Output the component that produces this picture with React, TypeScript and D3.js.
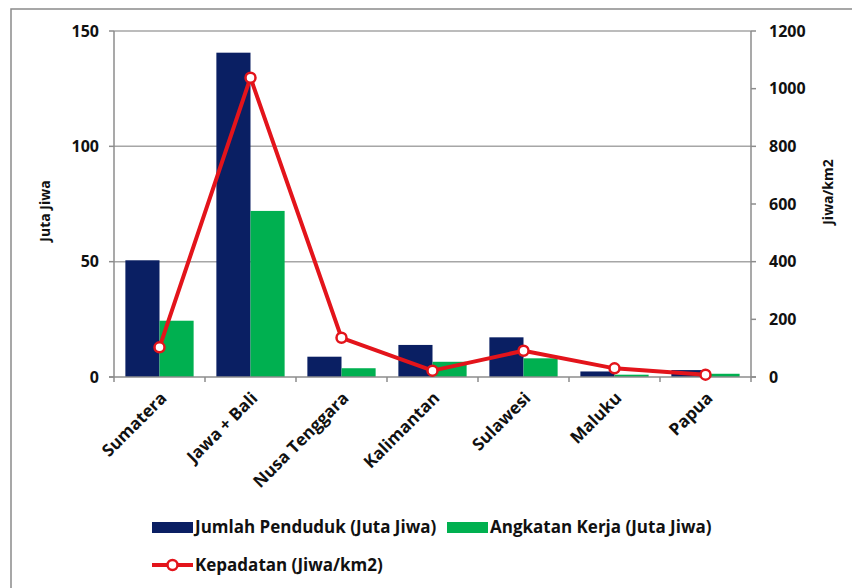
import React from "react";
import * as d3 from "d3";

// Population by island group, Indonesia
const categories: string[] = [
  "Sumatera",
  "Jawa + Bali",
  "Nusa Tenggara",
  "Kalimantan",
  "Sulawesi",
  "Maluku",
  "Papua",
];
// Jumlah Penduduk (Juta Jiwa)
const penduduk: number[] = [50.6, 140.6, 8.8, 13.9, 17.2, 2.4, 3.0];
// Angkatan Kerja (Juta Jiwa)
const angkatan: number[] = [24.4, 72.0, 3.8, 6.6, 8.1, 1.0, 1.4];
// Kepadatan (Jiwa/km2)
const kepadatan: number[] = [103, 1038, 136, 22, 91, 30, 8];

const leftTicks: number[] = [0, 50, 100, 150];
const rightTicks: number[] = [0, 200, 400, 600, 800, 1000, 1200];

const NAVY = "#0a1f63";
const GREEN = "#00b050";
const RED = "#e3141b";
const GRID = "#a6a6a6";
const AXIS = "#8c8c8c";
const INK = "#111";
const FONT = "'Open Sans', 'Noto Sans', sans-serif";

export default function App() {
  const W = 852;
  const H = 588;
  const m = { left: 114, right: 751, top: 31, bottom: 377 };

  const x = d3
    .scaleBand<string>()
    .domain(categories)
    .range([m.left, m.right])
    .paddingInner(0)
    .paddingOuter(0);
  const yL = d3.scaleLinear().domain([0, 150]).range([m.bottom, m.top]);
  const yR = d3.scaleLinear().domain([0, 1200]).range([m.bottom, m.top]);

  const bw = x.bandwidth() * 0.375;
  const groupOffset = (x.bandwidth() - 2 * bw) / 2;
  const cx = (c: string) => (x(c) as number) + x.bandwidth() / 2;

  const line = d3
    .line<number>()
    .x((_, i) => cx(categories[i]))
    .y((d) => yR(d));

  const boundaries = d3.range(categories.length + 1).map((i) => m.left + i * x.bandwidth());

  return (
    <svg
      width={W}
      height={H}
      style={{ position: "absolute", left: 0, top: 0, background: "#fff" }}
      fontFamily={FONT}
    >
      {/* chart frame */}
      <rect x={11} y={9} width={900} height={700} fill="#fff" stroke="#8a8a8a" strokeWidth={1.5} />

      {/* horizontal gridlines */}
      {leftTicks
        .filter((t) => t > 0)
        .map((t) => (
          <line key={t} x1={m.left} x2={m.right} y1={yL(t)} y2={yL(t)} stroke={GRID} strokeWidth={1.5} />
        ))}

      {/* bars */}
      {categories.map((c, i) => (
        <g key={c}>
          <rect
            x={(x(c) as number) + groupOffset}
            y={yL(penduduk[i])}
            width={bw}
            height={yL(0) - yL(penduduk[i])}
            fill={NAVY}
          />
          <rect
            x={(x(c) as number) + groupOffset + bw}
            y={yL(angkatan[i])}
            width={bw}
            height={yL(0) - yL(angkatan[i])}
            fill={GREEN}
          />
        </g>
      ))}

      {/* left axis */}
      <line x1={m.left} x2={m.left} y1={m.top} y2={m.bottom} stroke={AXIS} strokeWidth={1.5} />
      {leftTicks.map((t) => (
        <g key={t}>
          <line x1={m.left - 5} x2={m.left} y1={yL(t)} y2={yL(t)} stroke={AXIS} strokeWidth={1.5} />
          <text x={m.left - 15} y={yL(t)} dy="0.35em" textAnchor="end" fontSize={16} fontWeight={700} fill={INK}>
            {t}
          </text>
        </g>
      ))}

      {/* right axis */}
      <line x1={m.right} x2={m.right} y1={m.top} y2={m.bottom} stroke={AXIS} strokeWidth={1.5} />
      {rightTicks.map((t) => (
        <g key={t}>
          <line x1={m.right} x2={m.right + 5} y1={yR(t)} y2={yR(t)} stroke={AXIS} strokeWidth={1.5} />
          <text x={m.right + 18} y={yR(t)} dy="0.35em" textAnchor="start" fontSize={16} fontWeight={700} fill={INK}>
            {t}
          </text>
        </g>
      ))}

      {/* category axis */}
      <line x1={m.left - 5} x2={m.right + 5} y1={m.bottom} y2={m.bottom} stroke={AXIS} strokeWidth={1.5} />
      {boundaries.map((b, i) => (
        <line key={i} x1={b} x2={b} y1={m.bottom} y2={m.bottom + 5} stroke={AXIS} strokeWidth={1.5} />
      ))}
      {categories.map((c) => (
        <text
          key={c}
          transform={`translate(${cx(c) + 4},${m.bottom + 18}) rotate(-45)`}
          textAnchor="end"
          dy="0.35em"
          fontSize={17}
          fontWeight={700}
          fill={INK}
        >
          {c}
        </text>
      ))}

      {/* axis titles */}
      <text
        transform={`translate(50,${(m.top + m.bottom) / 2 + 7}) rotate(-90)`}
        textAnchor="middle"
        fontSize={14}
        fontWeight={700}
        fill={INK}
      >
        Juta Jiwa
      </text>
      <text
        transform={`translate(833,${(m.top + m.bottom) / 2 - 12}) rotate(-90)`}
        textAnchor="middle"
        fontSize={14}
        fontWeight={700}
        fill={INK}
      >
        Jiwa/km2
      </text>

      {/* density line */}
      <path d={line(kepadatan) as string} fill="none" stroke={RED} strokeWidth={4} strokeLinejoin="round" />
      {kepadatan.map((v, i) => (
        <circle key={i} cx={cx(categories[i])} cy={yR(v)} r={5} fill="#fff" stroke={RED} strokeWidth={2.5} />
      ))}

      {/* legend */}
      <g fontSize={17} fontWeight={700} fill={INK}>
        <rect x={152} y={522} width={41} height={11} fill={NAVY} />
        <text x={195} y={533}>Jumlah Penduduk (Juta Jiwa)</text>
        <rect x={447} y={522} width={41} height={11} fill={GREEN} />
        <text x={490} y={533}>Angkatan Kerja (Juta Jiwa)</text>
        <line x1={152} x2={193} y1={565} y2={565} stroke={RED} strokeWidth={4} />
        <circle cx={172.5} cy={565} r={5} fill="#fff" stroke={RED} strokeWidth={2.5} />
        <text x={195} y={571}>Kepadatan (Jiwa/km2)</text>
      </g>
    </svg>
  );
}
